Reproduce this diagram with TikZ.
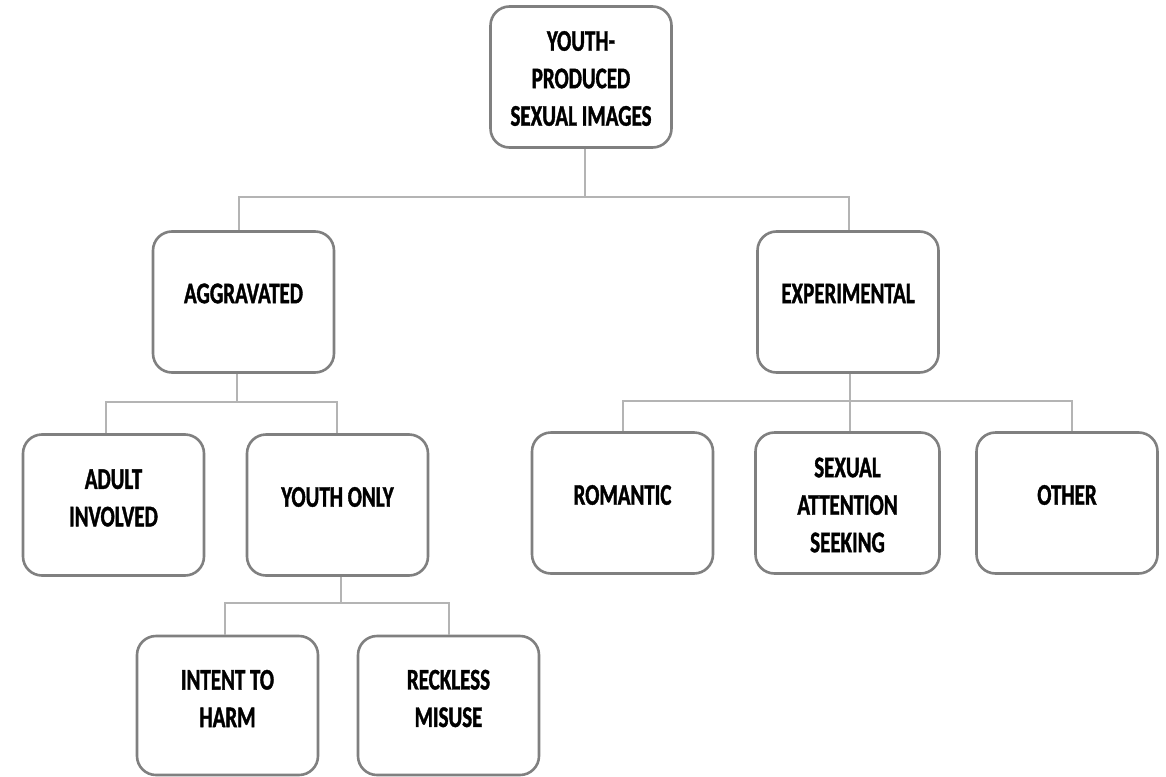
\documentclass[tikz,border=0pt]{standalone}
\usepackage{fontspec}
\setmainfont{Carlito}[FakeStretch=0.7,BoldFeatures={FakeBold=1.2}]
\begin{document}
\begin{tikzpicture}[x=1pt,y=-1pt,
  box/.style={draw=boxgray,line width=2.6pt,rounded corners=19pt,fill=white,
    minimum width=181pt,minimum height=141pt,inner sep=0pt},
  lbl/.style={font=\bfseries\fontsize{30}{37.5}\selectfont,align=center,inner sep=0pt,text=black},
  conn/.style={draw=linegray,line width=1.4pt}]
\definecolor{boxgray}{HTML}{808080}
\definecolor{linegray}{HTML}{B4B4B4}
\useasboundingbox[fill=white] (0,0) rectangle (1166,776);
\coordinate (bus1) at (585,197);
\coordinate (aggtop) at (239,231);
\coordinate (exptop) at (849,231);
% boxes
\node[box] (top) at (581,77) {};
\node[box] (agg) at (243.5,302) {};
\node[box] (exp) at (848,302) {};
\node[box] (adult) at (113.5,505) {};
\node[box] (yonly) at (337.5,505) {};
\node[box,minimum height=139pt] (intent) at (227.5,705.5) {};
\node[box,minimum height=139pt] (reck) at (448.5,705.5) {};
\node[box] (rom) at (622.5,503) {};
\node[box,minimum width=184pt] (sex) at (847.5,503) {};
\node[box] (oth) at (1067,503) {};
% connectors
\draw[conn] (top.south -| bus1) -- (bus1) -| (agg.north -| aggtop);
\draw[conn] (bus1) -| (exp.north -| exptop);
\draw[conn] (agg.south -| 237,0) -- (237,402) coordinate (bus2) -| (adult.north -| 106,0);
\draw[conn] (bus2) -| (yonly.north -| 337,0);
\draw[conn] (yonly.south -| 341,0) -- (341,603) coordinate (bus3) -| (intent.north -| 225,0);
\draw[conn] (bus3) -| (reck.north -| 449,0);
\draw[conn] (exp.south -| 850,0) -- (850,401) coordinate (bus4) -| (rom.north -| 623,0);
\draw[conn] (bus4) -- (sex.north -| 850,0);
\draw[conn] (bus4) -| (oth.north -| 1072,0);
% labels
\node[lbl] (topT) at ([yshift=-1.5pt]top.center) {YOUTH-\\PRODUCED\\SEXUAL IMAGES};
\node[lbl] (aggT) at ([yshift=8.5pt]agg.center) {AGGRAVATED};
\node[lbl] (expT) at ([yshift=8.5pt]exp.center) {EXPERIMENTAL};
\node[lbl] (adultT) at ([yshift=7pt]adult.center) {ADULT\\INVOLVED};
\node[lbl] (yonlyT) at ([yshift=8pt]yonly.center) {YOUTH ONLY};
\node[lbl] (intentT) at ([yshift=7pt]intent.center) {INTENT TO\\HARM};
\node[lbl] (reckT) at ([yshift=7pt]reck.center) {RECKLESS\\MISUSE};
\node[lbl] (romT) at ([yshift=8pt]rom.center) {ROMANTIC};
\node[lbl] (sexT) at ([yshift=-2pt]sex.center) {SEXUAL\\ATTENTION\\SEEKING};
\node[lbl] (othT) at ([yshift=8pt]oth.center) {OTHER};
\end{tikzpicture}
\end{document}
